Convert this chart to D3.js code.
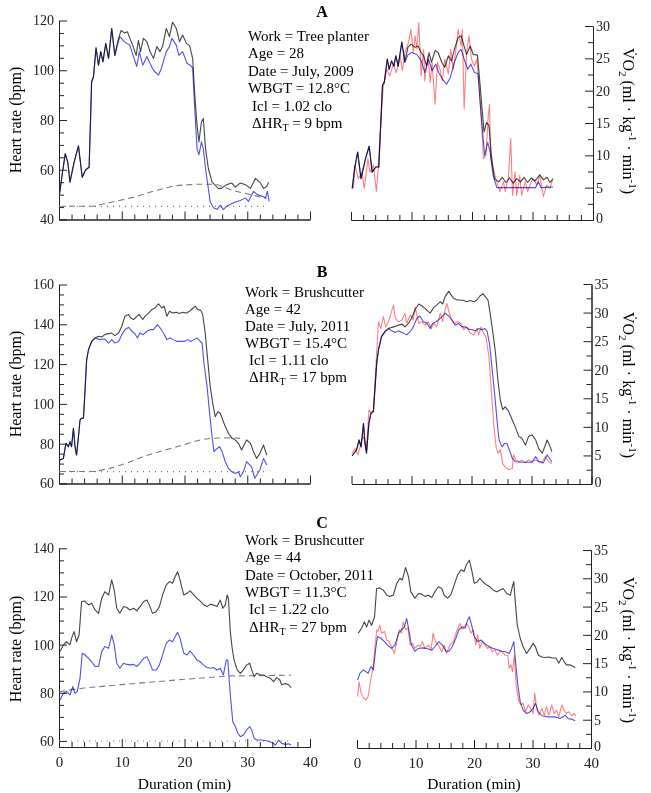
<!DOCTYPE html>
<html>
<head>
<meta charset="utf-8">
<script src="https://cdn.jsdelivr.net/npm/d3@7"></script>
<style>
    body { margin: 0; background: #fff; }
    svg { display: block; font-family: "Liberation Serif", "Times New Roman", serif; }
</style>
</head>
<body>
<div id="chart"></div>
<script>
// Series are [minute, value] pairs.

// Panel A - heart rate (bpm).
var hrMeasA = [[0.1,50.5],[0.5,58],[1.0,66.5],[1.4,63],[1.75,55],[2.4,63],[3.1,69.6],[3.7,57],[4.25,60],[4.8,61],[5.2,95.4],[5.5,97.4],[5.9,109],[6.3,102],[6.65,107.5],[7.0,103.4],[7.45,110.8],[7.9,104.8],[8.4,116.8],[8.9,106],[9.4,112],[9.9,116],[10.4,115],[10.9,115.5],[11.3,112.8],[11.75,110],[12.3,106],[12.65,112],[13.0,107.5],[13.45,112.8],[14.0,111.5],[14.5,107.5],[15.05,104.8],[15.6,109.5],[16.1,107.5],[16.5,109.5],[17.1,116.8],[17.6,113.5],[18.1,119.3],[18.7,116.8],[19.2,111.5],[19.7,114.2],[20.3,110.8],[20.8,110],[21.3,104.8],[21.6,91.4],[22.0,78],[22.3,71.2],[22.7,79.3],[23.0,80.6],[23.35,68.5],[23.8,60.5],[24.4,55],[24.9,53.8],[25.4,52.4],[25.9,52.5],[26.7,54],[27.5,54.7],[28.1,53],[28.9,54.7],[29.7,54],[30.5,52.5],[31.3,56.5],[32.1,54.7],[32.6,52.5],[33.1,53.3],[33.4,55]];
var hrCorrA = [[0.1,50.5],[0.5,58],[1.0,66.5],[1.4,63],[1.75,55],[2.4,63],[3.1,69.6],[3.7,57],[4.25,60],[4.8,61],[5.2,95.4],[5.5,97.4],[5.9,109],[6.3,102],[6.65,107.5],[7.0,103.4],[7.45,110.8],[7.9,104.8],[8.4,116.8],[8.9,106],[9.3,110],[9.7,113.5],[10.4,111.5],[11.3,110],[11.8,106],[12.4,101.5],[12.8,107.5],[13.35,102],[14.0,105.5],[14.5,102.8],[15.05,100],[15.85,98],[16.3,100.7],[17.1,107.5],[17.6,109.5],[18.0,112.8],[18.7,110],[19.1,106],[19.7,107.5],[20.4,102.8],[20.9,102],[21.3,101],[21.6,86],[22.0,68.5],[22.3,66],[22.7,71.2],[23.0,68.5],[23.35,60.5],[24.1,47],[24.6,44.7],[25.2,44.1],[25.7,45.7],[26.2,44],[26.7,45.3],[27.8,46.7],[28.9,47.6],[29.7,48.7],[30.2,47.3],[31.0,51.3],[31.6,50],[32.4,49.3],[32.9,48.7],[33.2,51.3],[33.5,47.3]];
var thermalA = [[0,45.3],[5.4,45.3],[8.3,46.9],[11.8,48.9],[15.3,51.6],[18.5,53.6],[21.9,54.2],[25,54.2],[27.8,51.6],[30.5,50],[33.1,48.5]];
var restA = [[0,45.3],[33.4,45.3]];

// Panel A - VO2 (ml/kg/min).
var vo2HrA = [[0.2,4.9],[0.6,8],[1.1,10.5],[1.65,6.4],[2.4,9.5],[3.0,11.4],[3.5,7.4],[4.1,8.2],[4.6,8.2],[5.2,20.8],[5.5,21.3],[6.0,24.9],[6.3,23.3],[6.7,24.6],[7.1,23.8],[7.4,25.4],[7.8,23.8],[8.4,27.5],[8.9,24.4],[9.4,26.7],[9.9,27.2],[10.6,26.7],[11.1,26.9],[11.6,25.9],[12.0,25.4],[12.5,23.8],[12.9,25.9],[13.3,24.4],[13.9,26.2],[14.4,25.9],[15.0,24.4],[15.5,23.6],[16.1,25.4],[16.6,24.6],[17.1,26.4],[17.7,28.2],[18.2,28.5],[18.6,27.2],[19.1,25.6],[19.7,26.9],[20.2,25.6],[20.9,25.5],[21.3,21.3],[21.7,16.7],[22.0,13.6],[22.4,15.1],[22.8,14.6],[23.2,10],[23.7,6.4],[24.4,5.9],[25.0,6.6],[25.6,5.8],[26.2,6.5],[26.8,5.7],[27.4,6.4],[28.0,5.9],[28.6,6.6],[29.2,5.8],[29.8,6.5],[30.4,6],[31.2,7],[31.8,6.2],[32.4,6.6],[32.9,5.8],[33.4,6.4]];
var vo2CorrA = [[0.2,4.9],[0.6,8],[1.1,10.5],[1.65,6.4],[2.4,9.5],[3.0,11.4],[3.5,7.4],[4.1,8.2],[4.6,8.2],[5.2,20.8],[5.5,21.3],[6.0,24.9],[6.3,23.3],[6.7,24.6],[7.1,23.8],[7.4,25.4],[7.8,23.8],[8.4,27.5],[8.9,24.4],[9.4,25.5],[10.0,25.9],[10.9,25.6],[11.6,24.6],[12.2,22.8],[12.8,24.9],[13.4,23.1],[14.0,24.1],[14.5,22.8],[15.1,21.8],[15.8,21],[16.4,22],[17.1,24.4],[17.7,25.9],[18.2,26.4],[18.7,24.9],[19.3,23.3],[19.8,24.1],[20.4,22.8],[21.0,22.6],[21.3,18.7],[21.9,12],[22.1,10],[22.6,12],[23.0,10.5],[23.5,6.9],[24.1,5],[26,5],[28,5],[30.5,5],[31.0,5.9],[31.4,5],[33.4,5.1]];
var vo2MeasA = [[0.4,4.9],[0.66,8.5],[1.2,6.4],[1.8,7.4],[2.2,4.9],[2.8,9.5],[3.1,7.4],[3.7,8.5],[4.2,4.4],[4.5,8],[5.0,16.2],[5.3,20.3],[5.9,23.3],[6.4,22.3],[7.0,24.1],[7.5,22.8],[8.1,25.4],[8.5,23.1],[8.9,25.9],[9.5,27.4],[9.9,29.5],[10.3,25.9],[10.6,28.5],[10.9,26.4],[11.2,30.5],[11.6,22.3],[12.0,26.4],[12.2,21.5],[12.7,25.4],[13.1,21.3],[13.4,24.4],[13.9,17.9],[14.3,24.4],[14.7,23.3],[15.1,21.5],[15.5,24.9],[16.1,22.6],[16.5,26.4],[16.9,23.3],[17.5,27.4],[17.7,29.5],[18.2,26.9],[18.4,29.5],[18.7,17.2],[19.1,25.9],[19.5,28.5],[19.9,24.9],[20.4,23.8],[20.8,24.9],[21.2,20.3],[21.6,14.6],[21.9,9.5],[22.3,10],[22.7,16.2],[22.9,17.9],[23.1,9.5],[23.5,7.9],[24.1,5.9],[24.6,4.4],[25.2,5.9],[25.5,4.4],[26.0,6.4],[26.4,12.6],[26.7,3.8],[27.1,7.4],[27.4,3.8],[27.9,6.9],[28.2,3.8],[28.8,5.9],[29.2,4.4],[29.8,5.9],[30.1,6.4],[30.7,5.4],[31.2,6.9],[31.8,3.6],[32.3,5.4],[32.9,4.9],[33.3,6.2]];

// Panel B - heart rate (bpm).
var hrMeasB = [[0.15,71.8],[0.7,72.6],[1.1,80.2],[1.5,78.5],[1.75,81],[2.0,78.5],[2.3,87.7],[2.55,78.5],[2.8,74.3],[3.1,83.5],[3.35,91.9],[3.6,92.8],[3.9,92.8],[4.15,107],[4.4,122],[4.7,127.2],[5.2,131.4],[5.75,133.1],[6.3,134],[6.8,133.6],[7.3,134.8],[7.9,135.3],[8.4,135.6],[8.9,134.3],[9.5,135.6],[10.0,139],[10.5,144],[11.1,144.9],[11.4,143.2],[11.9,142.4],[12.4,144],[12.8,144.9],[13.35,142.4],[13.7,144],[14.3,145.7],[14.8,147.4],[15.3,148.2],[15.85,150.3],[16.4,148.2],[16.75,149.1],[17.2,144],[17.6,146.6],[18.1,145.7],[18.7,146],[19.2,145.4],[19.7,146],[20.3,145.7],[20.8,146.6],[21.2,147.7],[21.7,149.1],[22.1,147.4],[22.6,147],[22.9,144.9],[23.3,135.6],[23.7,122],[24.1,108.7],[24.5,100.3],[24.9,93.6],[25.3,96.1],[25.7,95.3],[26.1,91.9],[26.5,88.6],[27.0,85.2],[27.6,82.7],[28.1,81.8],[28.6,80.2],[29.1,76.8],[29.9,81.9],[30.5,80.2],[31.0,76],[31.5,72.6],[32.0,75],[32.6,79.3],[33.1,74.3]];
var hrCorrB = [[0.15,71.8],[0.7,72.6],[1.1,80.2],[1.5,78.5],[1.75,81],[2.0,78.5],[2.3,87.7],[2.55,78.5],[2.8,74.3],[3.1,83.5],[3.35,91.9],[3.6,92.8],[3.9,92.8],[4.15,107],[4.4,122],[4.7,127.2],[5.2,131.4],[5.75,133.1],[6.5,132.3],[7.3,132.6],[7.9,130.6],[8.4,132.3],[8.9,130.6],[9.5,131.4],[10.0,134.8],[10.5,137.3],[11.1,138.5],[11.6,136.5],[12.1,135.3],[12.5,133.1],[12.9,135.6],[13.4,134.8],[14.0,136.5],[14.5,137.3],[15.05,137.3],[15.7,139.8],[16.1,138.2],[16.65,135.6],[17.2,132.3],[17.7,133.1],[18.2,132.3],[18.8,131.4],[19.4,131.4],[19.95,131.4],[20.5,132.3],[21.0,131.4],[21.5,132.3],[22.0,133.1],[22.4,131.8],[22.8,130.6],[23.1,120.5],[23.6,108.7],[24.0,95.3],[24.4,83.5],[24.7,76],[25.2,77.6],[25.6,78.5],[26.0,76],[26.5,70.9],[27.0,67.6],[27.55,65.9],[28.1,65],[28.6,65.9],[28.9,63.4],[29.4,66],[29.9,71],[30.7,68.4],[31.2,62.6],[32.0,66.8],[32.6,72.6],[33.1,69.3]];
var thermalB = [[0,66],[5.6,66],[8.1,67.6],[10.8,70.2],[13.4,73.5],[16.1,76.1],[18.8,78.5],[22.5,81.9],[24.2,82.7],[27.5,83],[29.5,82.5]];
var restB = [[0,66],[33.2,66]];

// Panel B - VO2 (ml/kg/min).
var vo2HrB = [[0.1,4.9],[0.86,6],[1.25,7.7],[1.6,6.5],[2.0,10.6],[2.25,7.1],[2.5,5.4],[2.9,10.6],[3.25,12.4],[3.65,12.7],[3.9,16.5],[4.2,21.1],[4.5,23.5],[5.0,25.8],[5.6,26.7],[6.15,27.2],[7.0,27.5],[7.8,27.8],[8.4,28],[8.9,27.5],[9.5,28.1],[10.0,29],[10.6,30.5],[11.2,31.5],[11.7,31.2],[12.3,30.7],[13.1,29.9],[13.7,30.9],[14.2,31.3],[14.8,31.9],[15.2,31.5],[15.6,32.8],[16.2,33.7],[16.6,33.1],[17.0,32.5],[17.6,32.2],[18.1,32.2],[18.7,32.1],[19.2,31.9],[19.8,32.1],[20.4,31.9],[20.9,32.2],[21.4,32.9],[21.9,33.3],[22.3,32.8],[22.75,32.2],[23.1,29.9],[23.5,27],[24.0,22.9],[24.4,18.2],[24.8,14.7],[25.2,13],[25.6,13.5],[26.2,12.7],[26.8,11.2],[27.3,10],[27.9,8.3],[28.4,8],[29.0,6.8],[29.5,8.3],[30.1,8.6],[30.7,7.7],[31.2,6.2],[31.8,5.4],[32.2,6.5],[32.6,7.7],[33.0,6.8],[33.4,5.7]];
var vo2CorrB = [[0.1,4.9],[0.86,6],[1.25,7.7],[1.6,6.5],[2.0,10.6],[2.25,7.1],[2.5,5.4],[2.9,10.6],[3.25,12.4],[3.65,12.7],[3.9,16.5],[4.2,21.1],[4.5,23.5],[5.0,25.8],[5.6,26.7],[6.15,27.2],[6.7,26.8],[7.3,26.5],[7.8,26.8],[8.7,26.4],[9.2,26.1],[9.8,26.7],[10.3,27.5],[10.9,29],[11.4,29.4],[12.0,28.4],[12.6,28.1],[13.1,27.2],[13.5,28.1],[14.1,28.4],[14.6,28.8],[15.1,29.3],[15.6,29.9],[16.2,29.4],[16.7,28.7],[17.3,27.8],[17.85,28.1],[18.4,27.5],[19.0,27.5],[19.5,27.1],[20.1,27],[20.6,26.8],[21.2,27.2],[21.7,27],[22.2,27.2],[22.6,26.7],[23.0,24.6],[23.4,20.5],[23.9,15.3],[24.3,10.6],[24.6,7.7],[25.1,6.5],[25.5,7.1],[25.9,7.1],[26.3,6],[26.8,4.5],[27.3,3.9],[28.5,3.8],[30.1,3.8],[30.7,4.8],[31.2,3.9],[32.0,3.7],[32.6,5.1],[33.0,4.5],[33.4,3.9]];
var vo2MeasB = [[0.1,5.4],[0.6,6.2],[1.1,5.1],[1.7,7.7],[2.1,8.3],[2.5,6],[2.9,13],[3.25,12.4],[3.65,13],[4.0,19.4],[4.5,28.4],[4.9,27.2],[5.3,29.3],[5.7,27.5],[6.15,28.4],[6.6,29.9],[7.0,31.3],[7.3,29],[7.8,28.4],[8.4,28.7],[8.9,29.9],[9.2,28.1],[9.8,29.6],[10.3,28.7],[10.6,31],[11.2,28.1],[11.7,28.4],[12.3,27.8],[12.8,28.4],[13.3,27.2],[13.7,28.1],[14.2,27.5],[14.8,29.9],[15.2,28.4],[15.6,30.5],[15.9,31.6],[16.3,29.9],[16.7,28.8],[17.2,28.1],[17.7,28.4],[18.3,28.1],[18.7,27],[19.2,27.5],[19.8,26.4],[20.4,26.1],[20.9,27.2],[21.2,26.1],[21.6,27.5],[22.0,26.4],[22.4,25.8],[22.9,22.3],[23.3,16.5],[23.7,10.6],[24.1,6.5],[24.4,5.4],[24.8,6],[25.2,3.6],[25.6,3],[26.2,2.5],[26.8,2.7],[27.0,5.1],[27.4,4.2],[27.9,3.9],[28.4,4.2],[29.0,3.7],[29.5,4.2],[30.1,3.9],[30.7,4.2],[31.2,3.9],[31.8,3.9],[32.3,4.8],[32.9,3.9],[33.4,3.6]];

// Panel C - heart rate (bpm).
var hrMeasC = [[0.16,97.1],[0.7,99.9],[1.2,101.2],[1.75,99.9],[2.0,102.6],[2.4,105.4],[2.8,101.2],[3.2,104],[3.6,117.9],[4.1,118.1],[4.7,116.5],[5.2,117.2],[5.75,114.4],[6.3,113],[6.8,119.2],[7.3,122],[7.9,120.6],[8.4,126.9],[8.8,122.7],[9.2,115.1],[9.7,113],[10.3,115.8],[10.8,115.4],[11.3,114.4],[11.9,115.1],[12.4,114],[12.9,115.8],[13.5,117.9],[14.0,118.5],[14.4,116.5],[14.9,113],[15.5,113.7],[16.0,115.8],[16.5,120.6],[17.1,124.8],[17.6,126.2],[18.1,125.5],[18.5,128.2],[18.9,130.3],[19.3,126.9],[19.6,123.4],[19.9,120.6],[20.4,121.3],[20.9,122.3],[21.4,120.9],[22.0,119.2],[22.5,118.1],[23.0,116.7],[23.6,115.8],[24.1,116.7],[24.6,116.5],[25.2,115.8],[25.7,118.5],[26.1,115.1],[26.5,116.5],[26.8,120.6],[27.0,119.2],[27.3,105.4],[27.6,98.5],[27.9,93.6],[28.4,89.5],[28.9,88.1],[29.4,89.5],[29.9,91.6],[30.4,92.3],[30.7,89.5],[31.1,86.7],[31.5,88.1],[32.1,87.4],[32.6,87.4],[33.1,86.7],[33.7,86],[34.2,84.6],[34.7,86.3],[35.2,85.3],[35.5,83.3],[36.1,83.9],[36.6,83.3],[37.0,82.1]];
var hrCorrC = [[0.16,77],[0.7,79.8],[1.2,80.5],[1.75,79.1],[2.2,82.6],[2.55,79.8],[2.9,80.5],[3.35,86],[3.7,96.4],[4.15,95.7],[4.7,94.3],[5.2,92.9],[5.75,90.9],[6.3,90.9],[6.8,97.1],[7.3,99.2],[7.9,98.5],[8.4,104],[8.8,99.9],[9.2,92.3],[9.7,90.2],[10.3,92.3],[10.8,91.8],[11.3,91.6],[11.9,91.8],[12.4,90.9],[12.9,92.3],[13.5,94.3],[14.0,95],[14.4,92.9],[14.9,89.5],[15.5,89.5],[16.0,91.6],[16.5,95.7],[17.1,100.6],[17.6,101.9],[18.1,101.2],[18.5,103.3],[18.9,105.1],[19.3,102.6],[19.6,99.2],[19.9,96.4],[20.4,95.7],[20.9,97.4],[21.4,95.7],[22.0,93.6],[22.5,92.9],[23.0,91.6],[23.6,90.5],[24.1,90.2],[24.6,90.5],[25.2,89.5],[25.7,90.2],[26.2,87.4],[26.65,93.6],[26.9,93.6],[27.1,86],[27.4,76.3],[27.7,68],[28.1,66],[28.5,63.2],[28.9,61.8],[29.4,62.5],[29.9,64.6],[30.4,66],[30.7,64.6],[31.1,61.1],[31.5,60.4],[32.3,60.4],[33.1,60.1],[33.9,59.4],[34.5,58.3],[35.0,60.4],[35.5,59],[36.1,58.6],[36.6,58.8],[37.0,58.3]];
var thermalC = [[0.1,80.5],[4,82],[10,83.4],[20,85.6],[27,87],[37,87.3]];
var restC = [[0,60],[37,60]];

// Panel C - VO2 (ml/kg/min).
var vo2HrC = [[0.23,20.3],[0.8,21.2],[1.25,22.3],[1.65,21.4],[2.05,22.6],[2.5,21.7],[3.0,23.2],[3.35,28.2],[3.9,28.3],[4.5,27.9],[5.1,27],[5.6,26.8],[6.2,27],[6.8,29.1],[7.35,30],[7.75,29.7],[8.3,31.9],[8.8,30.3],[9.2,27.6],[9.9,26.5],[10.5,27.3],[11.05,27.2],[11.6,26.8],[12.2,27],[12.8,26.6],[13.3,27.6],[13.9,28.5],[14.5,28.2],[14.9,27],[15.5,26.5],[16.1,27.2],[16.6,28.8],[17.2,30.6],[17.8,31.5],[18.3,31.2],[18.7,32.4],[19.2,33.2],[19.6,31.5],[20.05,29.1],[20.6,29.4],[21.0,30],[21.6,29.3],[22.2,28.8],[22.7,28.5],[23.3,27.9],[23.9,27.6],[24.4,27.9],[25.0,28.2],[25.6,27.3],[26.2,27],[26.55,28.5],[26.8,29.4],[27.1,25.3],[27.4,21.7],[27.9,19.4],[28.4,17.9],[29.0,16.7],[29.6,17.6],[30.1,18.5],[30.5,17.9],[31.0,16.4],[31.6,16.1],[32.1,16],[32.7,16.1],[33.3,15.9],[34.0,15.9],[34.5,15],[35.0,16],[35.4,15.3],[35.8,14.7],[36.4,14.7],[37.0,14.4],[37.3,14.2]];
var vo2CorrC = [[0.1,12],[0.5,13.2],[1.1,13.8],[1.5,13.5],[1.9,13.2],[2.4,14.4],[2.8,13.8],[3.2,17.6],[3.5,19.7],[4.1,19.4],[4.7,18.8],[5.2,18.2],[5.9,17.6],[6.5,18.2],[7.1,20.3],[7.6,20.9],[8.1,21.4],[8.5,22.9],[8.9,20.6],[9.3,18.2],[9.9,17.1],[10.5,17.6],[11.3,17.7],[12.2,17.5],[12.8,17.3],[13.3,17.9],[14.0,18.8],[14.6,18.2],[15.2,17.1],[15.7,17.1],[16.3,17.9],[16.9,19.4],[17.4,20.9],[18.0,21.4],[18.5,21.2],[18.9,22.6],[19.2,23.2],[19.6,21.7],[20.05,19.7],[20.6,18.8],[21.2,19.1],[21.8,18.5],[22.3,18.1],[23.0,17.7],[23.6,17.5],[24.2,17.3],[24.8,17.1],[25.4,17],[26.0,16.7],[26.4,17.6],[26.8,18.8],[27.1,15.3],[27.5,11.1],[27.9,8.2],[28.4,6.7],[29.0,6.1],[29.6,6.4],[30.1,7],[30.5,7.9],[31.0,6.4],[31.6,5.7],[32.7,5.5],[33.8,5.5],[34.7,5.2],[35.6,5.8],[36.1,5.2],[36.7,5.1],[37.3,4.8]];
var vo2MeasC = [[0.1,9.1],[0.35,11.7],[0.7,9.7],[1.1,8.8],[1.5,8.5],[1.9,9.1],[2.4,12.3],[2.8,14.7],[3.1,18.2],[3.4,20.9],[3.6,20.6],[3.9,21.7],[4.2,20.3],[4.7,20.6],[5.1,19.1],[5.5,18.8],[5.9,17.9],[6.4,16.7],[6.8,18.8],[7.2,20.9],[7.6,20.3],[7.9,22.3],[8.3,20.9],[8.7,21.2],[9.1,18.2],[9.5,18.5],[9.9,17.6],[10.4,18.2],[10.8,17.9],[11.2,18.8],[11.6,17.6],[12.2,18.2],[12.7,17.5],[13.0,20.3],[13.4,18.8],[13.9,18.2],[14.5,17],[14.9,18.2],[15.3,16.7],[15.9,18.2],[16.5,18.8],[17.0,20.6],[17.6,22],[18.0,20.9],[18.3,21.4],[18.7,22],[19.1,21.4],[19.5,20.3],[19.9,20.9],[20.3,18.2],[20.6,20],[21.0,17.6],[21.4,18.8],[21.9,18.2],[22.3,17.6],[22.7,17.9],[23.1,17],[23.6,17.3],[24.0,16.4],[24.4,17.1],[24.8,17],[25.3,16.4],[25.8,16.4],[26.0,14.1],[26.3,14.7],[26.6,13.5],[26.9,16.4],[27.2,11.1],[27.6,8.5],[28.0,7.6],[28.4,7.9],[28.8,6.4],[29.3,7.6],[29.7,7],[30.1,6.1],[30.4,9.7],[30.7,7],[31.1,5.8],[31.6,7],[32.0,5.8],[32.4,7.3],[32.8,5.8],[33.3,7.6],[33.7,6.1],[34.1,6.7],[34.5,5.5],[35.0,7.6],[35.4,6.7],[35.8,6.1],[36.2,6.4],[36.7,5.7],[37.1,6.1],[37.4,5.7]];

// Info text for each panel.
var infoA = ['Work = Tree planter', 'Age = 28', 'Date = July, 2009', 'WBGT = 12.8°C', 'Icl = 1.02 clo', '9'];
var infoB = ['Work = Brushcutter', 'Age = 42', 'Date = July, 2011', 'WBGT = 15.4°C', 'Icl = 1.11 clo', '17'];
var infoC = ['Work = Brushcutter', 'Age = 44', 'Date = October, 2011', 'WBGT = 11.3°C', 'Icl = 1.22 clo', '27'];

// Panel layout.
var panels = [
    {
        letter: 'A', info: infoA,
        hr: [hrMeasA, hrCorrA, thermalA, restA],
        vo2: [vo2MeasA, vo2HrA, vo2CorrA],
        lx: [59, 310], ly: [219.5, 20.5], hrDomain: [40, 120],
        rx: [351, 593], ry: [220, 26], vo2Max: 30,
        textX: 248, letterY: 17, textY: 41, lineH: 17.4, labelMid: 120, xLabels: false
    },
    {
        letter: 'B', info: infoB,
        hr: [hrMeasB, hrCorrB, thermalB, restB],
        vo2: [vo2MeasB, vo2HrB, vo2CorrB],
        lx: [59, 310], ly: [483.5, 284.5], hrDomain: [60, 160],
        rx: [351.5, 591.5], ry: [484, 284], vo2Max: 35,
        textX: 245, letterY: 277, textY: 297, lineH: 17, labelMid: 384, xLabels: false
    },
    {
        letter: 'C', info: infoC,
        hr: [hrMeasC, hrCorrC, thermalC, restC],
        vo2: [vo2MeasC, vo2HrC, vo2CorrC],
        lx: [59, 310], ly: [747, 548.3], hrDomain: [57.5, 140],
        rx: [357, 591], ry: [748, 550], vo2Max: 35,
        textX: 245, letterY: 528, textY: 545, lineH: 17.3, labelMid: 649, xLabels: true
    }
];

var colors = { black: '#454545', blue: '#5252ea', red: '#ff6a6a', guide: '#7a7a7a' };

var svg = d3.select('#chart')
    .append('svg')
    .attr('width', 651)
    .attr('height', 793);

svg.append('rect').attr('width', 651).attr('height', 793).attr('fill', '#fff');

function addAxis(g, axis, transform) {
    var a = g.append('g').attr('transform', transform).call(axis);
    a.attr('color', '#222').attr('font-family', null).attr('font-size', 14);
    a.selectAll('.domain').attr('stroke-width', 1);
    return a;
}

function drawSeries(g, data, x, y, color, opts) {
    var line = d3.line()
        .x(function(d) { return x(d[0]); })
        .y(function(d) { return y(d[1]); });
    var path = g.append('path')
        .datum(data)
        .attr('d', line)
        .attr('fill', 'none')
        .attr('stroke', color)
        .attr('stroke-width', opts.width || 1.1)
        .attr('stroke-linejoin', 'round');
    if (opts.dash) path.attr('stroke-dasharray', opts.dash);
    if (opts.opacity) path.attr('stroke-opacity', opts.opacity);
    if (opts.blend) path.style('mix-blend-mode', 'multiply');
    return path;
}

panels.forEach(function(p) {
    var g = svg.append('g');

    // Scales.
    var xL = d3.scaleLinear().domain([0, 40]).range(p.lx);
    var yL = d3.scaleLinear().domain(p.hrDomain).range(p.ly);
    var xR = d3.scaleLinear().domain([0, 40]).range(p.rx);
    var yR = d3.scaleLinear().domain([0, p.vo2Max]).range(p.ry);

    var hrMajor = d3.range(Math.ceil(p.hrDomain[0] / 20) * 20, p.hrDomain[1] + 1, 20);
    var hrMinor = d3.range(Math.ceil(p.hrDomain[0] / 5) * 5, p.hrDomain[1] + 1, 5)
        .filter(function(v) { return v % 20 !== 0; });
    var vo2Major = d3.range(0, p.vo2Max + 1, 5);
    var vo2Minor = d3.range(2.5, p.vo2Max, 5);
    var xMajor = [0, 10, 20, 30, 40];
    var xMinor = d3.range(2, 40, 2).filter(function(v) { return v % 10 !== 0; });

    // Left panel axes.
    addAxis(g, d3.axisLeft(yL).tickValues(hrMinor).tickSize(-5).tickSizeOuter(0).tickFormat(''),
        'translate(' + p.lx[0] + ',0)');
    addAxis(g, d3.axisLeft(yL).tickValues(hrMajor).tickSize(-8).tickSizeOuter(0).tickPadding(5),
        'translate(' + p.lx[0] + ',0)');
    addAxis(g, d3.axisBottom(xL).tickValues(xMinor).tickSize(-5).tickSizeOuter(0).tickFormat(''),
        'translate(0,' + p.ly[0] + ')');
    var bl = addAxis(g, d3.axisBottom(xL).tickValues(xMajor).tickSize(-8).tickSizeOuter(0).tickPadding(9),
        'translate(0,' + p.ly[0] + ')');
    if (!p.xLabels) bl.selectAll('text').remove();
    else bl.attr('font-size', 15);

    // Right panel axes.
    addAxis(g, d3.axisRight(yR).tickValues(vo2Minor).tickSize(-5).tickSizeOuter(0).tickFormat(''),
        'translate(' + p.rx[1] + ',0)');
    var ra = addAxis(g, d3.axisRight(yR).tickValues(vo2Major).tickSize(-8).tickSizeOuter(0).tickPadding(3),
        'translate(' + p.rx[1] + ',0)');
    // Lift the zero label a touch so it clears the duration labels below.
    ra.selectAll('.tick text').filter(function(d) { return d === 0; }).attr('dy', '0.2em');
    addAxis(g, d3.axisBottom(xR).tickValues(xMinor).tickSize(-5).tickSizeOuter(0).tickFormat(''),
        'translate(0,' + p.ry[0] + ')');
    var br = addAxis(g, d3.axisBottom(xR).tickValues(xMajor).tickSize(-8).tickSizeOuter(0).tickPadding(9),
        'translate(0,' + p.ry[0] + ')');
    if (!p.xLabels) br.selectAll('text').remove();
    else br.attr('font-size', 15);

    // Heart rate lines: rest (dotted), thermal (dashed), measured, corrected.
    drawSeries(g, p.hr[3], xL, yL, colors.guide, { dash: '1,5', width: 1.2 });
    drawSeries(g, p.hr[2], xL, yL, colors.guide, { dash: '6,4', width: 1.1 });
    drawSeries(g, p.hr[0], xL, yL, colors.black, {});
    drawSeries(g, p.hr[1], xL, yL, colors.blue, { blend: true });

    // VO2 lines: measured (red), from HR (black), from corrected HR (blue).
    drawSeries(g, p.vo2[0], xR, yR, colors.red, { opacity: 0.85 });
    drawSeries(g, p.vo2[1], xR, yR, colors.black, { blend: true });
    drawSeries(g, p.vo2[2], xR, yR, colors.blue, { blend: true });

    // Panel letter and info block.
    g.append('text')
        .attr('x', 322).attr('y', p.letterY)
        .attr('text-anchor', 'middle')
        .attr('font-weight', 'bold')
        .attr('font-size', 16)
        .text(p.letter);

    p.info.slice(0, 5).forEach(function(t, i) {
        g.append('text')
            .attr('x', p.textX + (i === 4 ? 4 : 0))
            .attr('y', p.textY + i * p.lineH)
            .attr('font-size', 15)
            .text(t);
    });

    var dhr = g.append('text')
        .attr('x', p.textX + 4)
        .attr('y', p.textY + 5 * p.lineH)
        .attr('font-size', 15);
    dhr.append('tspan').text('ΔHR');
    dhr.append('tspan').attr('font-size', 10).attr('dy', 3).text('T');
    dhr.append('tspan').attr('dy', -3).text(' = ' + p.info[5] + ' bpm');

    // Axis titles.
    g.append('text')
        .attr('transform', 'translate(21,' + p.labelMid + ') rotate(-90)')
        .attr('text-anchor', 'middle')
        .attr('font-size', 16)
        .text('Heart rate (bpm)');

    var vt = g.append('text')
        .attr('transform', 'translate(623,' + (p.labelMid + 1) + ') rotate(90)')
        .attr('text-anchor', 'middle')
        .attr('font-size', 16);
    vt.append('tspan').text('V\u0307O');
    vt.append('tspan').attr('font-size', 11).attr('dy', 4).text('2');
    vt.append('tspan').attr('dy', -4).text(' (ml \u00b7 kg');
    vt.append('tspan').attr('font-size', 11).attr('dy', -6).text('-1');
    vt.append('tspan').attr('dy', 6).text(' \u00b7 min');
    vt.append('tspan').attr('font-size', 11).attr('dy', -6).text('-1');
    vt.append('tspan').attr('dy', 6).text(')');

    if (p.xLabels) {
        [[xL, p.lx], [xR, p.rx]].forEach(function(s) {
            g.append('text')
                .attr('x', s[0](20))
                .attr('y', 789)
                .attr('text-anchor', 'middle')
                .attr('font-size', 15.5)
                .text('Duration (min)');
        });
    }
});
</script>
</body>
</html>
